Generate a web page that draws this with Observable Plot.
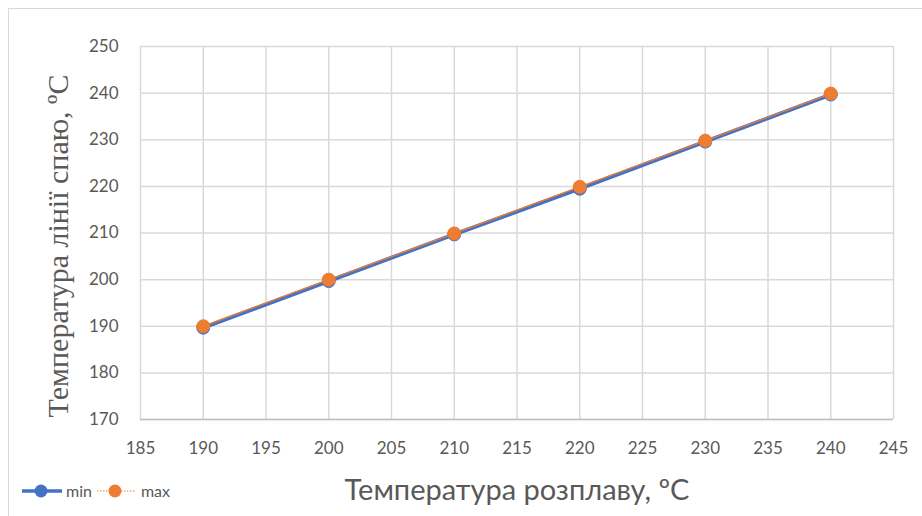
<!DOCTYPE html>
<html><head><meta charset="utf-8">
<script src="https://cdn.jsdelivr.net/npm/d3@7"></script>
<script src="https://cdn.jsdelivr.net/npm/@observablehq/plot@0.6"></script>
<style>
html,body{margin:0;padding:0;background:#fff;}
#wrap{position:relative;width:922px;height:516px;overflow:hidden;}
#border{position:absolute;left:8px;top:8px;width:940px;height:540px;border:1px solid #d9d9d9;box-sizing:border-box;}
#legend{position:absolute;left:22px;top:481px;font-family:Lato,"Open Sans",sans-serif;font-size:16px;color:#595959;display:flex;align-items:center;}
#legend .it{display:flex;align-items:center;}
#legend svg{margin-right:4px;}
svg.plot text{fill:#595959;}
</style></head>
<body><div id="wrap"><div id="border"></div><div id="chart"></div><div id="legend"></div></div>
<script>
const xVals = [190, 200, 210, 220, 230, 240];
const minVals = [189.7, 199.7, 209.7, 219.5, 229.6, 239.7];
const maxVals = [190, 200, 209.9, 219.9, 229.8, 239.9];
const xTicks = [185, 190, 195, 200, 205, 210, 215, 220, 225, 230, 235, 240, 245];
const yTicks = [170, 180, 190, 200, 210, 220, 230, 240, 250];
const seriesNames = ["min", "max"];
const xTitle = "Температура розплаву, ºС";
const yTitle = "Температура лінії спаю, ºС";

const minData = xVals.map((x, i) => ({x, y: minVals[i]}));
const maxData = xVals.map((x, i) => ({x, y: maxVals[i]}));
const blue = "#4472c4", orange = "#ed7d31";

const plot = Plot.plot({
  width: 922, height: 516,
  marginLeft: 140, marginRight: 29, marginTop: 46, marginBottom: 97,
  style: {fontFamily: "Lato, 'Open Sans', sans-serif", fontSize: "17px", background: "transparent", color: "#595959"},
  x: {domain: [185, 245], ticks: xTicks, label: null},
  y: {domain: [170, 250], ticks: yTicks, label: null},
  marks: [
    Plot.gridX(xTicks, {stroke: "#d9d9d9", strokeOpacity: 1, strokeWidth: 1.5}),
    Plot.gridY(yTicks, {stroke: "#d9d9d9", strokeOpacity: 1, strokeWidth: 1.5}),
    Plot.ruleY([170], {stroke: "#bfbfbf", strokeWidth: 1.5}),
    Plot.axisX(xTicks, {tickSize: 0, tickPadding: 22, fontSize: 17, label: null}),
    Plot.axisY(yTicks, {tickSize: 0, tickPadding: 22, fontSize: 17, label: null}),
    Plot.line(minData, {x: "x", y: "y", stroke: blue, strokeWidth: 4}),
    Plot.dot(minData, {x: "x", y: "y", r: 6.5, fill: blue, stroke: blue, strokeWidth: 1}),
    Plot.line(maxData, {x: "x", y: "y", stroke: orange, strokeWidth: 1.5, strokeDasharray: "1.5,1.5"}),
    Plot.dot(maxData, {x: "x", y: "y", r: 6.5, fill: orange, stroke: orange, strokeWidth: 1}),
    Plot.text([yTitle], {frameAnchor: "middle", textAnchor: "middle", dx: -459, dy: 13, rotate: -90, fontSize: 30, fontFamily: "'Liberation Serif', 'Times New Roman', serif", fill: "#595959"}),
    Plot.text([xTitle], {frameAnchor: "bottom", textAnchor: "middle", dy: 80, dx: 0, fontSize: 29, fontFamily: "Lato, 'Open Sans', sans-serif", fill: "#595959"})
  ]
});
document.getElementById("chart").appendChild(plot);

const legend = document.getElementById("legend");
const colors = [blue, orange];
seriesNames.forEach((name, i) => {
  const it = document.createElement("div");
  it.className = "it";
  const line = i === 0
    ? `<line x1="0" y1="9" x2="40" y2="9" stroke="${blue}" stroke-width="3.5"/>`
    : `<line x1="0" y1="9" x2="38" y2="9" stroke="${orange}" stroke-width="1.2" stroke-dasharray="1.5,1.5"/>`;
  it.innerHTML = `<svg width="40" height="18">${line}<circle cx="${i === 0 ? 19 : 18}" cy="9" r="6.5" fill="${colors[i]}"/></svg><span>${name}</span>`;
  if (i === 0) it.style.marginRight = "5px";
  legend.appendChild(it);
});
</script></body></html>
